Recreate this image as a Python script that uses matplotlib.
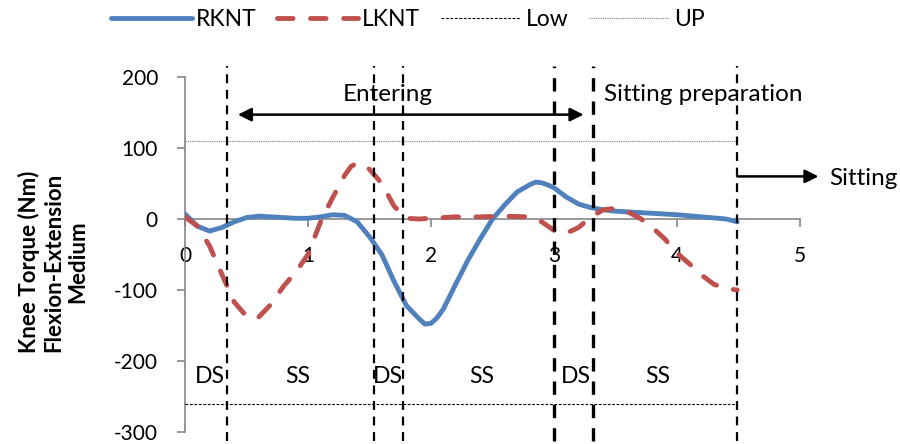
import matplotlib
matplotlib.use("Agg")
import matplotlib.pyplot as plt

plt.rcParams['font.family'] = ['Lato', 'DejaVu Sans']
plt.rcParams['axes.unicode_minus'] = False

# ---- data ----
t_rknt = [0, 0.1, 0.2, 0.3, 0.4, 0.5, 0.6, 0.7, 0.8, 0.9, 1.0, 1.1, 1.2, 1.3,
          1.4, 1.5, 1.6, 1.7, 1.8, 1.9, 1.95, 2.0, 2.05, 2.1, 2.2, 2.3, 2.4,
          2.5, 2.6, 2.7, 2.8, 2.85, 2.9, 2.95, 3.0, 3.1, 3.2, 3.3, 3.4, 3.5,
          3.6, 3.8, 4.0, 4.2, 4.4, 4.49]
rknt = [7, -10, -17, -12, -4, 2, 4, 3, 2, 1, 1, 3, 6, 5,
        -4, -25, -50, -88, -122, -140, -148, -147, -139, -127, -92, -58, -28,
        0, 20, 38, 48, 52, 51, 48, 44, 31, 21, 16, 13, 11,
        10, 8, 6, 3, 0, -4]

t_lknt = [0, 0.1, 0.2, 0.3, 0.4, 0.5, 0.55, 0.6, 0.7, 0.8, 0.9, 1.0, 1.1, 1.2,
          1.3, 1.35, 1.4, 1.45, 1.5, 1.6, 1.7, 1.8, 1.9, 2.0, 2.2, 2.4, 2.6,
          2.8, 2.9, 3.0, 3.05, 3.1, 3.2, 3.3, 3.4, 3.5, 3.6, 3.7, 3.8, 3.9,
          4.0, 4.1, 4.2, 4.3, 4.4, 4.49]
lknt = [3, -10, -38, -78, -117, -137, -141, -138, -120, -95, -75, -50, -5, 30,
        62, 74, 79, 76, 70, 50, 18, 1, 0, 1, 3, 3, 4,
        3, -4, -16, -21, -20, -12, 3, 13, 15, 10, 1, -12, -28,
        -48, -63, -79, -92, -98, -100]

t_limits = [0, 4.49]
low = [-260, -260]
up = [110, 110]

phase_lines = [0.34, 1.54, 1.77, 3.0, 3.32, 4.49]
phase_widths = [1.6, 1.6, 1.6, 2.4, 2.4, 1.6]

support_labels = ['DS', 'SS', 'DS', 'SS', 'DS', 'SS']
support_x = [0.20, 0.92, 1.65, 2.41, 3.18, 3.84]

x_ticks = [0, 1, 2, 3, 4, 5]
y_ticks = [-300, -200, -100, 0, 100, 200]
y_ticklabels = ['-300', '-200', '-100', '0', '100', '200']

# ---- figure ----
fig = plt.figure(figsize=(9, 4.44), dpi=100)
ax = fig.add_axes([185/900, 12/444, 615/900, 355/444])
ax.set_xlim(0, 5)
ax.set_ylim(-300, 200)

blue = '#4F81BD'
red = '#C0504D'
gray = '#868686'

l1, = ax.plot(t_rknt, rknt, color=blue, lw=3.5, solid_capstyle='round',
              solid_joinstyle='round', zorder=3, label='RKNT')
l2, = ax.plot(t_lknt, lknt, color=red, lw=3.5, dashes=(3.2, 3.6),
              dash_capstyle='round', dash_joinstyle='round', zorder=3,
              label='LKNT')
l3, = ax.plot(t_limits, low, color='black', lw=0.8, dashes=(2.5, 1.5),
              zorder=3, label='Low')
l4, = ax.plot(t_limits, up, color='#7f7f7f', lw=0.8, dashes=(1, 1),
              zorder=3, label='UP')

for xv, w in zip(phase_lines, phase_widths):
    ax.plot([xv, xv], [-312, 215], color='black', lw=w, dashes=(4, 3),
            clip_on=False, zorder=4)

# spines
for s in ['top', 'right']:
    ax.spines[s].set_visible(False)
ax.spines['bottom'].set_position(('data', 0))
ax.spines['bottom'].set_color(gray)
ax.spines['left'].set_color(gray)
ax.spines['bottom'].set_linewidth(1.2)
ax.spines['left'].set_linewidth(1.2)

ax.set_xticks(x_ticks)
ax.set_xticklabels([str(v) for v in x_ticks])
ax.set_yticks(y_ticks)
ax.set_yticklabels(y_ticklabels)
ax.tick_params(axis='both', colors=gray, labelcolor='black', labelsize=15,
               length=5.5, width=1.2, pad=14, direction='out')

# annotations
ax.annotate('', xy=(0.43, 147), xytext=(3.24, 147),
            arrowprops=dict(arrowstyle='<|-|>', color='black', lw=1.8,
                            mutation_scale=20, shrinkA=0, shrinkB=0))
ax.text(1.65, 175, 'Entering', ha='center', va='center', fontsize=17.5)
ax.text(3.41, 175, 'Sitting preparation', ha='left', va='center',
        fontsize=17.5)
ax.annotate('', xy=(5.15, 60), xytext=(4.49, 60),
            arrowprops=dict(arrowstyle='-|>', color='black', lw=1.8,
                            mutation_scale=20, shrinkA=0, shrinkB=0),
            annotation_clip=False)
ax.text(5.24, 57, 'Sitting', ha='left', va='center', fontsize=17.5,
        clip_on=False)

for lab, xv in zip(support_labels, support_x):
    ax.text(xv, -222, lab, ha='center', va='center', fontsize=16.5)

fig.text(53/900, 1 - 262/444,
         'Knee Torque (Nm)\nFlexion-Extension\nMedium',
         rotation=90, ha='center', va='center', fontsize=16,
         fontweight='bold', multialignment='center', linespacing=1.2)

fig.legend(handles=[l1, l2, l3, l4], loc='center',
           bbox_to_anchor=(408/900, 1 - 20/444), ncol=4, frameon=False,
           fontsize=16.5, handlelength=3.5, handletextpad=0.2,
           columnspacing=0.9)

fig.savefig('out.png', dpi=100)
